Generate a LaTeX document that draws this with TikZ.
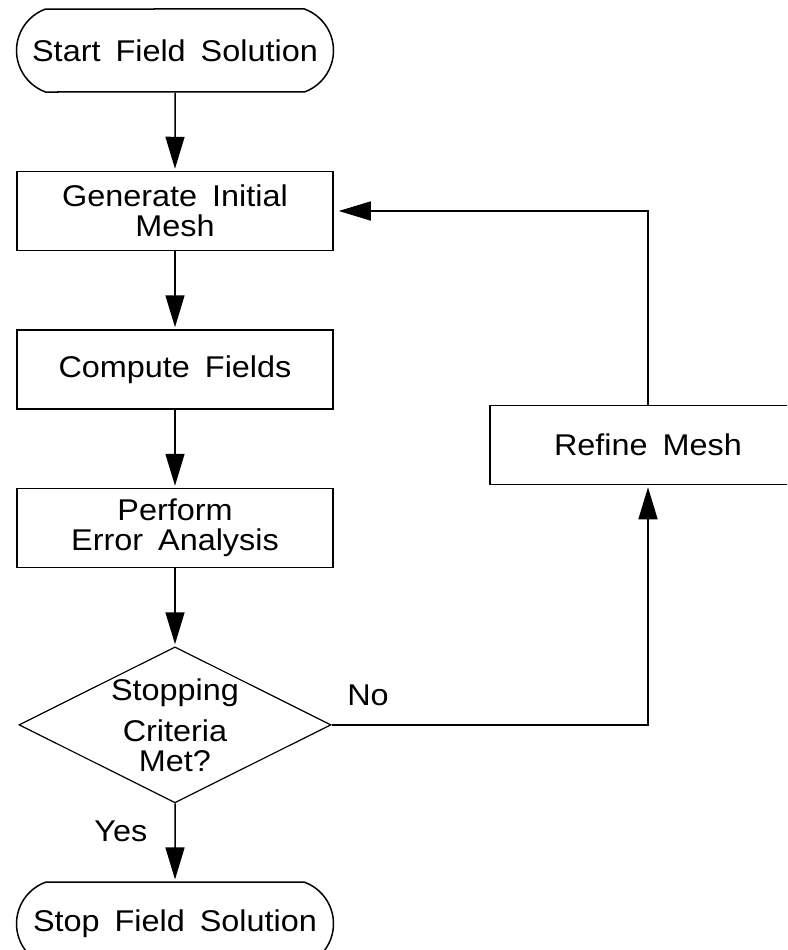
\documentclass[tikz,border=0pt]{standalone}
\usepackage{fontspec}
\setmainfont{Liberation Sans}[FakeStretch=1.08]
\usetikzlibrary{arrows.meta,positioning,shapes.geometric,shapes.misc}

\newcommand\chartfont{\fontsize{30}{30}\selectfont\spaceskip=15pt plus 2pt\relax}

\tikzset{
  every node/.style={font=\chartfont},
  terminal/.style={draw, line width=1.5pt, rounded rectangle, rounded rectangle arc length=140,
    minimum width=317pt, minimum height=83pt, inner sep=0pt},
  process/.style={draw, line width=1.5pt, rectangle, align=center,
    minimum width=316pt, minimum height=79pt, inner sep=0pt},
  decision/.style={draw, line width=1.2pt, diamond,
    minimum width=312pt, minimum height=156pt, inner sep=0pt},
  flow/.style={-{Triangle[length=32pt,width=19pt]}, line width=1.5pt, shorten >=2pt},
}

\begin{document}
\begin{tikzpicture}[x=1pt, y=-1pt, node distance=78pt]
\useasboundingbox (0,0) rectangle (787,950);
\clip (0,0) rectangle (787,950);
\fill[white] (0,0) rectangle (787,950);

% main column
\node[terminal] (start) at (175,50.5) {Start Field Solution};
\node[process, below=of start] (genmesh) {Generate Initial\\Mesh};
\node[process, below=of genmesh] (fields) {Compute Fields};
\node[process, below=of fields] (erroran) {Perform\\Error Analysis};
\node[decision, below=of erroran,
  label={[align=center]center:{Stopping\\[11pt]Criteria\\Met?}}] (crit) {};
\node[terminal, below=of crit] (stop) {Stop Field Solution};

% refinement branch
\node[process] (refine) at (648,445) {Refine Mesh};

\draw[flow] (start) -- (genmesh);
\draw[flow] (genmesh) -- (fields);
\draw[flow] (fields) -- (erroran);
\draw[flow] (erroran) -- (crit);
\draw[flow] (crit) -- node[pos=0.49, anchor=base east, inner sep=0pt, xshift=-27pt] {Yes} (stop);
\draw[flow] (crit.east) -| node[pos=0, anchor=south west, inner sep=0pt, xshift=15pt, yshift=18pt] {No} (refine.south);
\draw[flow, shorten >=5pt] (refine.north) |- (genmesh.east);

\end{tikzpicture}
\end{document}
